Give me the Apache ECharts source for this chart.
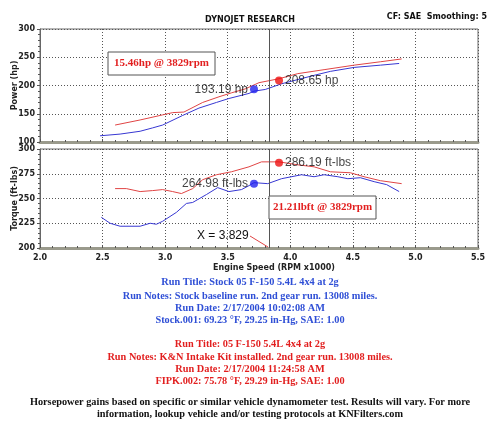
<!DOCTYPE html>
<html>
<head>
<meta charset="utf-8">
<script src="https://cdn.jsdelivr.net/npm/echarts@6/dist/echarts.min.js"></script>
<style>
  html, body { margin:0; padding:0; background:#fff; }
  #chart { width:500px; height:431px; }
</style>
</head>
<body>
<div id="chart"></div>
<script type="text/javascript">
	// axis ticks
	var rpmTicks = [2.0, 2.5, 3.0, 3.5, 4.0, 4.5, 5.0, 5.5];

	// Stock run (blue)
	var stockPowerRpm = [2.48, 2.64, 2.80, 2.90, 2.98, 3.14, 3.27, 3.41, 3.51, 3.67, 3.71, 3.80, 3.93, 4.19, 4.32, 4.51, 4.72, 4.87];
	var stockPower    = [111, 114, 119, 125, 130, 147, 160, 170, 177, 186, 190, 193, 203, 218, 225, 232, 236, 239];
	var stockTorqueRpm = [2.49, 2.56, 2.64, 2.80, 2.88, 2.93, 2.98, 3.09, 3.17, 3.22, 3.33, 3.42, 3.51, 3.61, 3.67, 3.71, 3.82, 3.93, 4.09, 4.19, 4.27, 4.38, 4.46, 4.56, 4.67, 4.77, 4.87];
	var stockTorque    = [231, 225, 222, 222, 225, 224, 227, 236, 245, 246, 254, 261, 257, 259, 263, 266, 265, 270, 274, 272, 274, 272, 270, 271, 267, 264, 257];

	// K&N run (red)
	var knPowerRpm = [2.60, 2.80, 2.98, 3.06, 3.15, 3.30, 3.43, 3.53, 3.64, 3.75, 3.91, 4.06, 4.27, 4.51, 4.72, 4.89];
	var knPower    = [130, 139, 148, 152, 153, 170, 180, 187, 194, 205, 212, 221, 228, 236, 242, 247];
	var knTorqueRpm = [2.60, 2.69, 2.80, 2.90, 2.98, 3.06, 3.13, 3.22, 3.30, 3.41, 3.53, 3.67, 3.77, 3.91, 4.06, 4.19, 4.32, 4.48, 4.59, 4.72, 4.89];
	var knTorque    = [260, 260, 257, 258, 259, 257, 255, 260, 269, 274, 277, 282, 287, 287, 284, 282, 277, 276, 272, 268, 265];

	// cursor readout at 3829 rpm
	var cursorRpm = 3.829;
	var markRpm = [3.71, 3.91];              // where the dots sit (stock, K&N)
	var powerAtCursor = [193.19, 208.65];
	var torqueAtCursor = [264.98, 286.19];

	var blue = '#3737d2', red = '#e04444';
	var blueText = '#2f4fd6', redText = '#e21f1f';

	function zip(a, b){ var r=[]; for(var i=0;i<a.length;i++) r.push([a[i], b[i]]); return r; }

	var myChart = echarts.init(document.getElementById('chart'));
	var tickFont = {fontFamily:'DejaVu Sans', fontSize:8, fontWeight:'bold', color:'#222'};
	var gridLine = {show:true, lineStyle:{color:'#555', type:[1,2], width:1}};

	function xAx(idx, labels){
		return {
			type:'value', gridIndex:idx, min:rpmTicks[0], max:rpmTicks[rpmTicks.length-1], interval:0.5,
			axisLine:{show:true, onZero:false, lineStyle:{color:'#9a9a8c', width:3}},
			axisTick:{show:true, inside:true, length:3, lineStyle:{color:'#555'}},
			minorTick:{show:true, splitNumber:5, length:2, lineStyle:{color:'#555'}},
			axisLabel:labels ? Object.assign({show:true, margin:6, formatter:function(v){return v.toFixed(1);}}, tickFont) : {show:false},
			splitLine:gridLine,
			name: labels ? 'Engine Speed (RPM x1000)' : '',
			nameLocation:'middle', nameGap:16,
			nameTextStyle:{fontFamily:'DejaVu Sans', fontSize:8, fontWeight:'bold', color:'#222', padding:[0,0,0,30]}
		};
	}
	function yAx(idx, min, max, step, name){
		return {
			type:'value', gridIndex:idx, min:min, max:max, interval:step,
			axisLine:{show:true, lineStyle:{color:'#666', width:1}},
			axisTick:{show:true, length:3, lineStyle:{color:'#555'}},
			minorTick:{show:true, splitNumber:5, length:2, lineStyle:{color:'#555'}},
			axisLabel:Object.assign({margin:5}, tickFont),
			splitLine:gridLine,
			name:name, nameLocation:'middle', nameGap:21, nameRotate:90, nameMoveOverlap:false,
			nameTextStyle:{fontFamily:'DejaVu Sans', fontSize:8, fontWeight:'bold', color:'#222'}
		};
	}

	var cursorLine = {
		silent:true, symbol:'none', label:{show:false},
		lineStyle:{color:'#555', width:1, type:'solid'},
		data:[{xAxis:cursorRpm}]
	};

	var option = {
		animation:false,
		grid:[
			{left:40, top:29, width:438, height:113, show:true, borderColor:'#6a6a6a', borderWidth:1, outerBoundsMode:'none', containLabel:false},
			{left:40, top:149, width:438, height:99, show:true, borderColor:'#6a6a6a', borderWidth:1, outerBoundsMode:'none', containLabel:false}
		],
		xAxis:[ xAx(0, false), xAx(1, true) ],
		yAxis:[ yAx(0, 100, 300, 50, 'Power (hp)'), yAx(1, 200, 300, 25, 'Torque (ft-lbs)') ],
		series:[
			{ name:'Stock HP', type:'line', xAxisIndex:0, yAxisIndex:0, showSymbol:false,
			  lineStyle:{color:blue, width:1}, data:zip(stockPowerRpm, stockPower), markLine:cursorLine },
			{ name:'K&N HP', type:'line', xAxisIndex:0, yAxisIndex:0, showSymbol:false,
			  lineStyle:{color:red, width:1}, data:zip(knPowerRpm, knPower) },
			{ name:'Stock TQ', type:'line', xAxisIndex:1, yAxisIndex:1, showSymbol:false,
			  lineStyle:{color:blue, width:1}, data:zip(stockTorqueRpm, stockTorque), markLine:cursorLine },
			{ name:'K&N TQ', type:'line', xAxisIndex:1, yAxisIndex:1, showSymbol:false,
			  lineStyle:{color:red, width:1}, data:zip(knTorqueRpm, knTorque) },
			// readout dots
			{ type:'scatter', xAxisIndex:0, yAxisIndex:0, symbolSize:8, z:5,
			  data:[
				{value:[markRpm[0], powerAtCursor[0]], itemStyle:{color:'#2222ee'},
				 label:{show:true, position:'left', distance:2, formatter:powerAtCursor[0].toFixed(2)+' hp'}},
				{value:[markRpm[1], powerAtCursor[1]], itemStyle:{color:'#ee1111'},
				 label:{show:true, position:'right', distance:2, formatter:powerAtCursor[1].toFixed(2)+' hp'}}
			  ],
			  label:{fontFamily:'Liberation Sans', fontSize:12, color:'#111'} },
			{ type:'scatter', xAxisIndex:1, yAxisIndex:1, symbolSize:8, z:5,
			  data:[
				{value:[markRpm[0], torqueAtCursor[0]], itemStyle:{color:'#2222ee'},
				 label:{show:true, position:'left', distance:2, formatter:torqueAtCursor[0].toFixed(2)+' ft-lbs'}},
				{value:[markRpm[1], torqueAtCursor[1]], itemStyle:{color:'#ee1111'},
				 label:{show:true, position:'right', distance:2, formatter:torqueAtCursor[1].toFixed(2)+' ft-lbs'}}
			  ],
			  label:{fontFamily:'Liberation Sans', fontSize:12, color:'#111'} }
		],
		graphic:[
			{type:'text', left:'center', top:16, style:{text:'DYNOJET RESEARCH', font:'bold 8px "DejaVu Sans"', fill:'#111'}},
			{type:'text', right:13, top:13, style:{text:'CF: SAE  Smoothing: 5', font:'bold 8px "DejaVu Sans"', fill:'#111'}},
			// gain boxes
			{type:'rect', shape:{x:108, y:52, width:107, height:23}, style:{fill:'#fff', stroke:'#555', lineWidth:1}, z:10},
			{type:'text', x:161.5, y:63.5, z:11, style:{text:(powerAtCursor[1]-powerAtCursor[0]).toFixed(2)+'hp @ '+Math.round(cursorRpm*1000)+'rpm', font:'bold 11px "Liberation Serif"', fill:redText, align:'center', verticalAlign:'middle'}},
			{type:'rect', shape:{x:269, y:196, width:107, height:23}, style:{fill:'#fff', stroke:'#555', lineWidth:1}, z:10},
			{type:'text', x:322.5, y:207.5, z:11, style:{text:(torqueAtCursor[1]-torqueAtCursor[0]).toFixed(2)+'lbft @ '+Math.round(cursorRpm*1000)+'rpm', font:'bold 11px "Liberation Serif"', fill:redText, align:'center', verticalAlign:'middle'}},
			// cursor readout
			{type:'text', x:197, y:236, z:11, style:{text:'X = '+cursorRpm.toFixed(3), font:'12px "Liberation Sans"', fill:'#111', verticalAlign:'middle'}},
			{type:'line', z:11, shape:{x1:250, y1:236, x2:268, y2:247}, style:{stroke:'#e04444', lineWidth:1}},
			// run notes
			{type:'text', left:'center', top:277, style:{text:'Run Title: Stock 05 F-150 5.4L 4x4 at 2g', font:'bold 10.3px "Liberation Serif"', fill:blueText}},
			{type:'text', left:'center', top:291, style:{text:'Run Notes: Stock baseline run. 2nd gear run. 13008 miles.', font:'bold 10.3px "Liberation Serif"', fill:blueText}},
			{type:'text', left:'center', top:303, style:{text:'Run Date: 2/17/2004 10:02:08 AM', font:'bold 10.3px "Liberation Serif"', fill:blueText}},
			{type:'text', left:'center', top:315, style:{text:'Stock.001: 69.23 \u00B0F, 29.25 in-Hg, SAE: 1.00', font:'bold 10.3px "Liberation Serif"', fill:blueText}},
			{type:'text', left:'center', top:339, style:{text:'Run Title: 05 F-150 5.4L 4x4 at 2g', font:'bold 10.3px "Liberation Serif"', fill:redText}},
			{type:'text', left:'center', top:352, style:{text:'Run Notes: K&N Intake Kit installed. 2nd gear run. 13008 miles.', font:'bold 10.3px "Liberation Serif"', fill:redText}},
			{type:'text', left:'center', top:364, style:{text:'Run Date: 2/17/2004 11:24:58 AM', font:'bold 10.3px "Liberation Serif"', fill:redText}},
			{type:'text', left:'center', top:376, style:{text:'FIPK.002: 75.78 \u00B0F, 29.29 in-Hg, SAE: 1.00', font:'bold 10.3px "Liberation Serif"', fill:redText}},
			{type:'text', left:'center', top:397, style:{text:'Horsepower gains based on specific or similar vehicle dynamometer test. Results will vary. For more', font:'bold 10.3px "Liberation Serif"', fill:'#111'}},
			{type:'text', left:'center', top:409, style:{text:'information, lookup vehicle and/or testing protocols at KNFilters.com', font:'bold 10.3px "Liberation Serif"', fill:'#111'}}
		]
	};
	myChart.setOption(option);
</script>
</body>
</html>
